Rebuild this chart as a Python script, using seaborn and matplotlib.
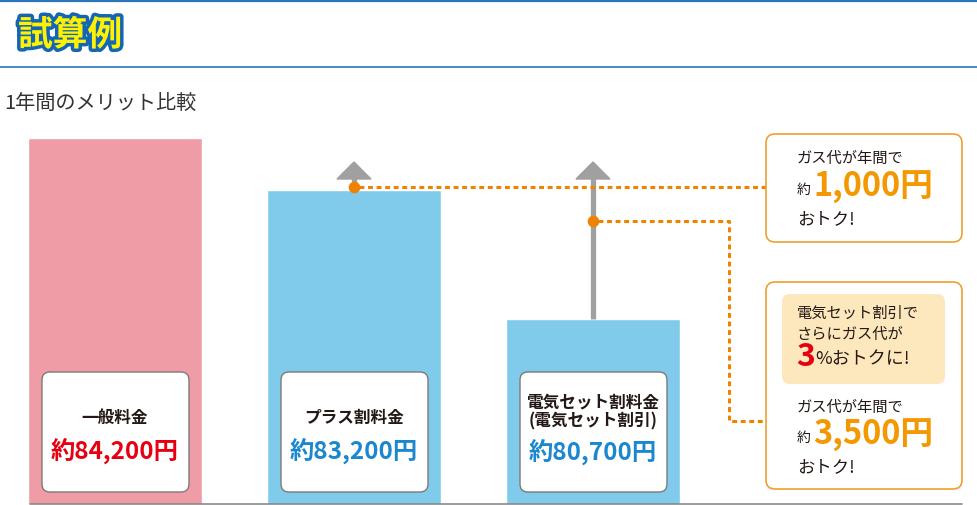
import matplotlib
matplotlib.use("Agg")
import matplotlib.pyplot as plt
import matplotlib.patheffects as pe
from matplotlib.patches import FancyBboxPatch
import seaborn as sns

# data
plans = ["一般料金", "プラス割料金", "電気セット割料金"]
costs = [84200, 83200, 80700]
cost_labels = ["約84,200円", "約83,200円", "約80,700円"]
plan_labels = ["一般料金", "プラス割料金", "電気セット割料金\n(電気セット割引)"]
bar_colors = ["#f09ca7", "#80cbeb", "#80cbeb"]
label_colors = ["#e60012", "#1a87cf", "#1a87cf"]

sns.set_theme(style="white")
plt.rcParams['font.family'] = ['Noto Sans CJK JP', 'DejaVu Sans']

W, H = 978, 506
fig = plt.figure(figsize=(W / 100, H / 100), dpi=100)

# bar axes: baseline at pixel 505, one category = 239 px, first centre at 115 px
ax = fig.add_axes([0, 1 / H, 1, 505 / H])
sns.barplot(x=plans, y=costs, hue=plans, palette=bar_colors, saturation=1,
            width=0.73, legend=False, ax=ax)
ax.set_xlim(-115 / 239, (W - 115) / 239)
ax.set_ylim(77100, 77100 + 505 / 0.0515)
ax.axis("off")

# overlay in pixel coords for the annotations
ov = fig.add_axes([0, 0, 1, 1], zorder=5)
ov.set_xlim(0, W)
ov.set_ylim(H, 0)
ov.axis("off")


def to_px(x, y):
    return ov.transData.inverted().transform(ax.transData.transform((x, y)))


# header
ov.plot([0, W], [2, 2], color="#2a75bb", lw=1.6)
ov.plot([0, W], [68, 68], color="#2a75bb", lw=1.2)
ov.text(18, 36, "試算例", fontsize=25, fontweight="bold", color="#fff200",
        va="center", ha="left",
        path_effects=[pe.withStroke(linewidth=5, foreground="#1565b5")])
ov.text(4, 104, "1年間のメリット比較", fontsize=14.5, color="#333333", va="center", ha="left")

# baseline
ov.plot([30, 962], [505, 505], color="#8a8a8a", lw=1.2)

# label boxes inside the bars
for i, (pl, cl, col) in enumerate(zip(plan_labels, cost_labels, label_colors)):
    cx, _ = to_px(i, costs[i])
    box = FancyBboxPatch((cx - 73, 373), 147, 120,
                         boxstyle="round,pad=0,rounding_size=8",
                         fc="white", ec="#7a7a7a", lw=1)
    ov.add_patch(box)
    if "\n" in pl:
        ov.text(cx, 412, pl, fontsize=12, fontweight="bold", color="#231815",
                ha="center", va="center", linespacing=1.05)
        ov.text(cx, 453, cl, fontsize=17.5, fontweight="bold", color=col,
                ha="center", va="center")
    else:
        ov.text(cx, 418, pl, fontsize=12, fontweight="bold", color="#231815",
                ha="center", va="center")
        ov.text(cx, 452, cl, fontsize=17.5, fontweight="bold", color=col,
                ha="center", va="center")

# arrows above bars 2 and 3
orange = "#ef8200"
dot_y = [188, 222]
for k, i in enumerate([1, 2]):
    cx, top = to_px(i, costs[i])
    ov.plot([cx, cx], [top, 178], color="#a0a0a0", lw=3.8, solid_capstyle="butt", zorder=3)
    ov.fill([cx - 17, cx + 17, cx], [180, 180, 163], color="#a0a0a0", zorder=3)
    ov.scatter([cx], [dot_y[k]], s=70, color=orange, zorder=6, linewidths=0)

# dotted leader lines
x2, _ = to_px(1, costs[1])
x3, _ = to_px(2, costs[2])
ov.plot([x2 + 5, 765], [188, 188], color=orange, lw=2.2, ls=(0, (1.6, 1.2)), zorder=4)
ov.plot([x3 + 5, 729, 729, 765], [222, 222, 422, 422], color=orange, lw=2.2,
        ls=(0, (1.6, 1.2)), zorder=4)

# savings boxes
ov.add_patch(FancyBboxPatch((766, 135), 196, 108, boxstyle="round,pad=0,rounding_size=9",
                            fc="white", ec="#f0a030", lw=1.2))
ov.add_patch(FancyBboxPatch((766, 283), 196, 207, boxstyle="round,pad=0,rounding_size=9",
                            fc="white", ec="#f0a030", lw=1.2))
ov.add_patch(FancyBboxPatch((782, 295), 163, 90, boxstyle="round,pad=0,rounding_size=8",
                            fc="#fde8bd", ec="none"))

dark = "#231815"
amber = "#f39800"
ov.text(797, 158, "ガス代が年間で", fontsize=11, color=dark, va="center")
ov.text(797, 190, "約", fontsize=10, color=dark, va="center")
ov.text(813, 187, "1,000円", fontsize=23.5, fontweight="bold", color=amber, va="center")
ov.text(797, 219, "おトク!", fontsize=12.5, color=dark, va="center")

ov.text(797, 313, "電気セット割引で", fontsize=11, color=dark, va="center")
ov.text(797, 334, "さらにガス代が", fontsize=11, color=dark, va="center")
ov.text(796, 357, "3", fontsize=23, fontweight="bold", color="#e60012", va="center")
ov.text(815, 359, "%おトクに!", fontsize=13, color=dark, va="center")

ov.text(797, 407, "ガス代が年間で", fontsize=11, color=dark, va="center")
ov.text(797, 438, "約", fontsize=10, color=dark, va="center")
ov.text(813, 435, "3,500円", fontsize=23.5, fontweight="bold", color=amber, va="center")
ov.text(797, 467, "おトク!", fontsize=12.5, color=dark, va="center")

plt.savefig("out.png", dpi=100)
